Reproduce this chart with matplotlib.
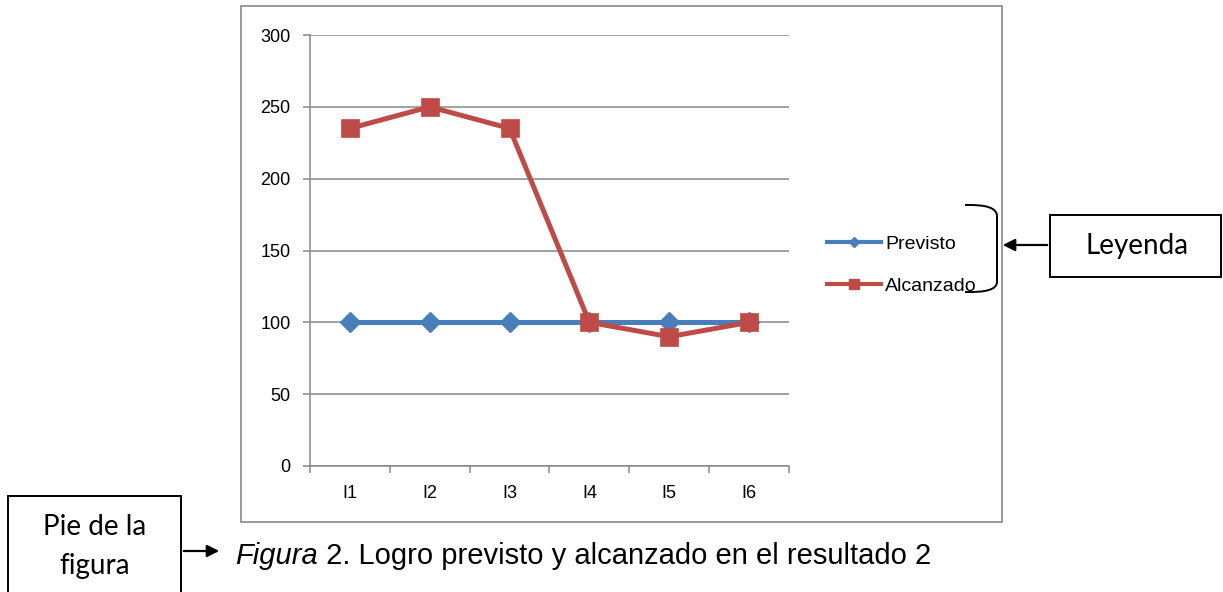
import matplotlib
matplotlib.use('Agg')
import matplotlib.pyplot as plt
from matplotlib.lines import Line2D
from matplotlib.patches import Rectangle, FancyArrowPatch, PathPatch
from matplotlib.path import Path

# datos del resultado 2
indicadores = ['I1', 'I2', 'I3', 'I4', 'I5', 'I6']
previsto = [100, 100, 100, 100, 100, 100]
alcanzado = [235, 250, 235, 100, 90, 100]
y_ticks = [0, 50, 100, 150, 200, 250, 300]

W, H = 1223, 592
AZUL = '#4a7ebb'
ROJO = '#be4b48'
GRIS = '#878787'


def fx(x):
    return x / W


def fy(y):
    return 1 - y / H


fig = plt.figure(figsize=(W / 100, H / 100), dpi=100)

# marco del grafico
fig.add_artist(Rectangle((fx(241), fy(522)), fx(1002) - fx(241), fy(6) - fy(522),
                         transform=fig.transFigure, fill=False, ec=GRIS, lw=1.2))

ax = fig.add_axes([fx(310), fy(466), fx(789) - fx(310), fy(35) - fy(466)])
x = list(range(len(indicadores)))
ax.plot(x, previsto, color=AZUL, lw=3.6, marker='D', ms=10, mec=AZUL, zorder=3)
ax.plot(x, alcanzado, color=ROJO, lw=3.6, marker='s', ms=13.5, mec=ROJO, mew=0.5, zorder=4)

ax.set_xlim(-0.5, len(indicadores) - 0.5)
ax.set_ylim(0, 300)
ax.set_yticks(y_ticks)
ax.set_xticks(x)
ax.set_xticklabels(indicadores)
ax.set_xticks([i - 0.5 for i in range(len(indicadores) + 1)], minor=True)
ax.yaxis.grid(True, color=GRIS, lw=1.1)
ax.set_axisbelow(True)
for s in ['top', 'right']:
    ax.spines[s].set_visible(False)
for s in ['left', 'bottom']:
    ax.spines[s].set_color(GRIS)
    ax.spines[s].set_linewidth(1.1)
ax.tick_params(axis='x', which='major', length=0, pad=14, labelsize=13)
ax.tick_params(axis='x', which='minor', length=5, width=1.1, color=GRIS, direction='out')
ax.tick_params(axis='y', length=5, width=1.1, color=GRIS, pad=9, labelsize=13)
for lab in ax.get_xticklabels() + ax.get_yticklabels():
    lab.set_fontfamily('Liberation Sans')

handles = [Line2D([], [], color=AZUL, lw=3, marker='D', ms=5, mec=AZUL),
           Line2D([], [], color=ROJO, lw=3, marker='s', ms=7.5, mec=ROJO)]
fig.legend(handles, ['Previsto', 'Alcanzado'], loc='center left',
           bbox_to_anchor=(fx(827), fy(265)), frameon=False,
           prop={'family': 'Liberation Sans', 'size': 14},
           handlelength=2.8, handletextpad=0.2, labelspacing=1.25,
           borderpad=0, borderaxespad=0)

# llave que agrupa la leyenda
llave = Path([(fx(965), fy(205)), (fx(997), fy(204)), (fx(997), fy(216)),
              (fx(997), fy(282)),
              (fx(997), fy(293)), (fx(965), fy(292))],
             [Path.MOVETO, Path.CURVE3, Path.CURVE3, Path.LINETO, Path.CURVE3, Path.CURVE3])
fig.add_artist(PathPatch(llave, transform=fig.transFigure, fill=False, ec='black', lw=1.4))

# cuadro "Leyenda"
fig.add_artist(Rectangle((fx(1050), fy(277)), fx(1221) - fx(1050), fy(215) - fy(277),
                         transform=fig.transFigure, fill=False, ec='black', lw=1.4))
fig.text(fx(1137), fy(246), 'Leyenda', ha='center', va='center',
         fontsize=20, family='Lato')
fig.add_artist(FancyArrowPatch((fx(1050), fy(245)), (fx(1000), fy(245)),
                               transform=fig.transFigure, arrowstyle='-|>',
                               mutation_scale=18, color='black', lw=1.6))

# cuadro "Pie de la figura"
fig.add_artist(Rectangle((fx(8), fy(600)), fx(181) - fx(8), fy(496) - fy(600),
                         transform=fig.transFigure, fill=False, ec='black', lw=1.4))
fig.text(fx(95), fy(527), 'Pie de la', ha='center', va='center', fontsize=20, family='Lato')
fig.text(fx(95), fy(566), 'figura', ha='center', va='center', fontsize=20, family='Lato')
fig.add_artist(FancyArrowPatch((fx(181), fy(551)), (fx(222), fy(551)),
                               transform=fig.transFigure, arrowstyle='-|>',
                               mutation_scale=18, color='black', lw=1.6))

# pie de figura: "Figura" en cursiva y el resto normal
t1 = fig.text(fx(235), fy(556), 'Figura', ha='left', va='center',
              fontsize=21, family='Liberation Sans', style='italic')
fig.canvas.draw()
bb = t1.get_window_extent()
fig.text(bb.x1 / W, fy(556), ' 2. Logro previsto y alcanzado en el resultado 2',
         ha='left', va='center', fontsize=21, family='Liberation Sans')

fig.savefig('out.png', dpi=100)
